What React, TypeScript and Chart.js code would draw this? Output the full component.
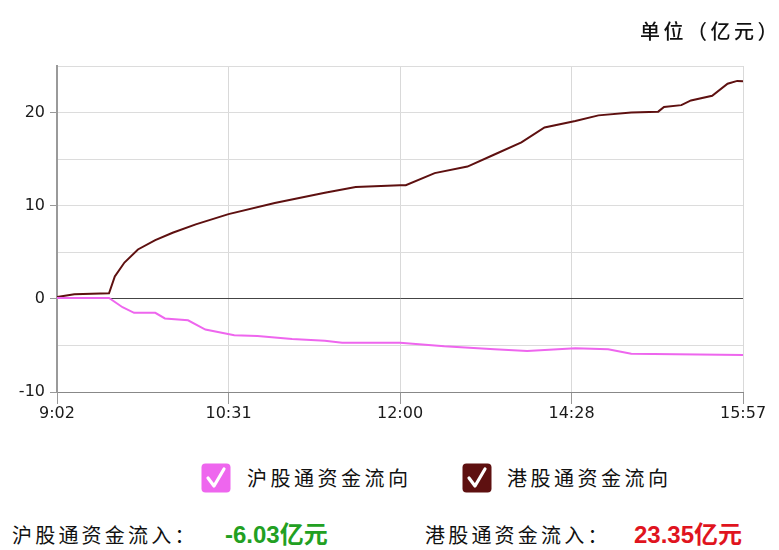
import React, { useEffect, useRef } from "react";
import { Chart, registerables } from "chart.js";

Chart.register(...registerables);

const hkTimes = ["9:02","9:11","9:29","9:32","9:37","9:44","9:53","10:02","10:14","10:31","10:55","11:21","11:37","12:00","13:02","13:17","13:34","13:48","14:02","14:14","14:30","14:42","14:59","15:13","15:16","15:25","15:30","15:41","15:49","15:54","15:57"];
const hkValues = [0.2,0.5,0.6,2.4,3.9,5.3,6.3,7.1,8.0,9.1,10.3,11.4,12.0,12.2,12.2,13.5,14.2,15.5,16.8,18.4,19.1,19.7,20.0,20.1,20.6,20.8,21.3,21.8,23.1,23.4,23.35];

const shTimes = ["9:02","9:29","9:36","9:42","9:53","9:58","10:10","10:19","10:34","10:46","11:04","11:21","11:30","12:00","13:22","13:48","14:05","14:30","14:47","14:59","15:57"];
const shValues = [0.1,0.1,-0.9,-1.5,-1.5,-2.1,-2.3,-3.3,-3.9,-4.0,-4.3,-4.5,-4.7,-4.7,-5.1,-5.4,-5.6,-5.3,-5.4,-5.9,-6.03];

const xTickLabels = ["9:02","10:31","12:00","14:28","15:57"];
const yMin = -10;
const yMax = 25;
const yStep = 5;

const shName = "沪股通资金流向";
const hkName = "港股通资金流向";
const unitText = "单位（亿元）";
const shInLabel = "沪股通资金流入：";
const hkInLabel = "港股通资金流入：";
const shTotal = "-6.03亿元";
const hkTotal = "23.35亿元";

const shColor = "#ee66ee";
const hkColor = "#5e1010";

function toIndex(t: string): number {
  const [h, m] = t.split(":").map(Number);
  const mins = h * 60 + m;
  if (mins <= 720) return mins - 542;
  return mins - 780 + 179;
}

const CJK = '"Noto Sans CJK SC", sans-serif';

function CheckBox({ color }: { color: string }) {
  return (
    <svg width="30" height="30" viewBox="0 0 30 30" style={{ display: "block" }}>
      <rect x="0.5" y="0.5" width="29" height="29" rx="4" fill={color} />
      <polyline points="7,15 13,23 23,6" fill="none" stroke="#fff" strokeWidth="3.2" strokeLinejoin="round" strokeLinecap="round" />
    </svg>
  );
}

export default function App() {
  const ref = useRef<HTMLCanvasElement | null>(null);

  useEffect(() => {
    document.body.style.margin = "0";
    const ctx = ref.current;
    if (!ctx) return;
    const chart = new Chart(ctx, {
      type: "line",
      data: {
        datasets: [
          {
            label: shName,
            data: shTimes.map((t, i) => ({ x: toIndex(t), y: shValues[i] })),
            borderColor: shColor,
            borderWidth: 2,
            pointRadius: 0,
            tension: 0,
            fill: false,
          },
          {
            label: hkName,
            data: hkTimes.map((t, i) => ({ x: toIndex(t), y: hkValues[i] })),
            borderColor: hkColor,
            borderWidth: 2,
            pointRadius: 0,
            tension: 0,
            fill: false,
          },
        ],
      },
      options: {
        responsive: false,
        animation: false,
        devicePixelRatio: 1,
        layout: { padding: { top: 66, right: 36, left: 0, bottom: 0 } },
        plugins: { legend: { display: false }, tooltip: { enabled: false } },
        scales: {
          x: {
            type: "linear",
            min: 0,
            max: toIndex(xTickLabels[xTickLabels.length - 1]),
            afterBuildTicks: (s: any) => {
              s.ticks = xTickLabels.map((t) => ({ value: toIndex(t) }));
            },
            afterFit: (s: any) => {
              s.height = 38;
            },
            ticks: {
              autoSkip: false,
              maxRotation: 0,
              padding: 0,
              color: "#1a1a1a",
              font: { family: '"DejaVu Sans", sans-serif', size: 16 },
              callback: (v: any) => {
                const i = xTickLabels.findIndex((t) => toIndex(t) === v);
                return i >= 0 ? xTickLabels[i] : "";
              },
            },
            grid: { color: "#d9d9d9", tickColor: "#999", tickLength: 12, lineWidth: 1 },
            border: { color: "#888", width: 1 },
          },
          y: {
            min: yMin,
            max: yMax,
            afterFit: (s: any) => {
              s.width = 57;
            },
            ticks: {
              stepSize: yStep,
              padding: 5,
              color: "#1a1a1a",
              font: { family: '"DejaVu Sans", sans-serif', size: 16 },
              callback: (v: any) => (Number(v) % 10 === 0 ? String(v) : ""),
            },
            grid: {
              color: (c: any) => (c.tick && c.tick.value === 0 ? "#444" : c.tick && c.tick.value === yMin ? "#888" : "#dcdcdc"),
              tickColor: (c: any) => (c.tick && c.tick.value % 10 === 0 ? "#999" : "rgba(0,0,0,0)"),
              tickLength: 7,
              lineWidth: 1,
            },
            border: { color: "#9a9a9a", width: 2 },
          },
        },
      },
    });
    return () => chart.destroy();
  }, []);

  return (
    <div style={{ position: "relative", width: 779, height: 550, background: "#fff", overflow: "hidden" }}>
      <canvas ref={ref} width={779} height={430} style={{ position: "absolute", left: 0, top: 0 }} />
      <div style={{ position: "absolute", left: 640, top: 16, fontFamily: CJK, fontSize: 20, fontWeight: 500, color: "#111", letterSpacing: 3.5, whiteSpace: "nowrap" }}>
        {unitText}
      </div>
      <div style={{ position: "absolute", left: 201, top: 463 }}>
        <CheckBox color={shColor} />
      </div>
      <div style={{ position: "absolute", left: 247, top: 463, fontFamily: CJK, fontSize: 20, lineHeight: "30px", color: "#111", letterSpacing: 3.5, whiteSpace: "nowrap" }}>
        {shName}
      </div>
      <div style={{ position: "absolute", left: 462, top: 463 }}>
        <CheckBox color={hkColor} />
      </div>
      <div style={{ position: "absolute", left: 507, top: 463, fontFamily: CJK, fontSize: 20, lineHeight: "30px", color: "#111", letterSpacing: 3.5, whiteSpace: "nowrap" }}>
        {hkName}
      </div>
      <div style={{ position: "absolute", left: 12, top: 520, fontFamily: CJK, fontSize: 20, lineHeight: "30px", color: "#111", letterSpacing: 3.2, whiteSpace: "nowrap" }}>
        {shInLabel}
      </div>
      <div style={{ position: "absolute", left: 225, top: 519, fontFamily: '"Liberation Sans", ' + CJK, fontWeight: "bold", fontSize: 24, lineHeight: "32px", color: "#22a022", whiteSpace: "nowrap" }}>
        {shTotal}
      </div>
      <div style={{ position: "absolute", left: 425, top: 520, fontFamily: CJK, fontSize: 20, lineHeight: "30px", color: "#111", letterSpacing: 3.2, whiteSpace: "nowrap" }}>
        {hkInLabel}
      </div>
      <div style={{ position: "absolute", left: 634, top: 519, fontFamily: '"Liberation Sans", ' + CJK, fontWeight: "bold", fontSize: 24, lineHeight: "32px", color: "#e0141e", whiteSpace: "nowrap" }}>
        {hkTotal}
      </div>
    </div>
  );
}
